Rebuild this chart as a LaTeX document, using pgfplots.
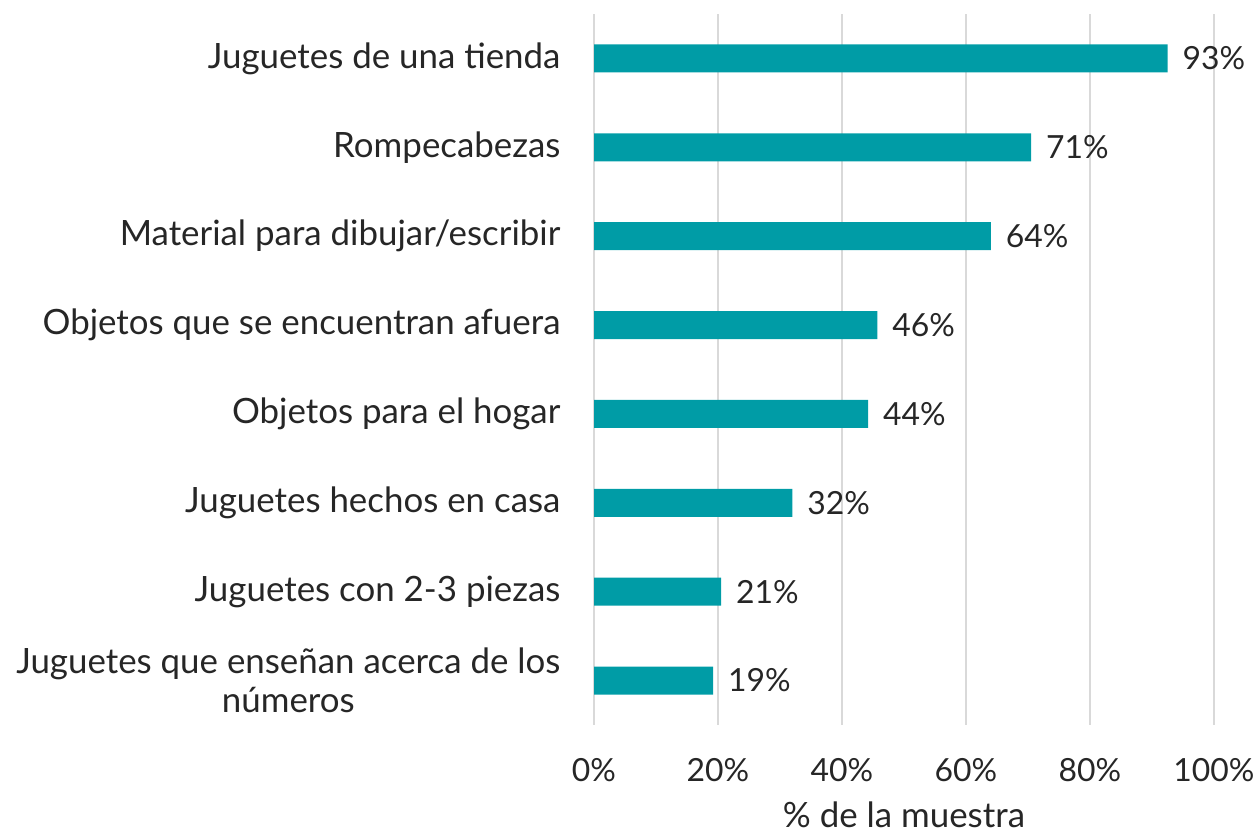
\documentclass[border=0pt]{standalone}
\usepackage{pgfplots}
\pgfplotsset{compat=1.18}
\usepackage{fontspec}
\setmainfont{Lato}
\definecolor{barc}{HTML}{009CA6}
\definecolor{txt}{HTML}{262626}
\definecolor{gridc}{HTML}{D9D9D9}
\begin{document}
\begin{tikzpicture}
\path[use as bounding box] (0,0) rectangle (628.5bp,417.5bp);
\begin{axis}[
  at={(297bp,55bp)}, anchor=south west,
  scale only axis=true,
  width=310bp, height=355.5bp,
  xbar, bar width=14bp,
  xmin=0, xmax=100,
  ymin=-0.5, ymax=7.5,
  y dir=reverse,
  axis line style={draw=none},
  tick style={draw=none},
  xtick={0,20,...,100},
  xticklabel={\pgfmathprintnumber{\tick}\%},
  xmajorgrids=true,
  grid style={gridc, line width=0.75bp},
  ytick={0,...,7},
  yticklabels={Juguetes de una tienda, Rompecabezas, Material para dibujar/escribir, Objetos que se encuentran afuera, Objetos para el hogar, Juguetes hechos en casa, Juguetes con 2-3 piezas, {Juguetes que enseñan acerca de los\\números}},
  yticklabel style={align=center, font=\fontsize{17.5}{19.5}\selectfont, text=txt, xshift=-9bp},
  xticklabel style={font=\fontsize{16}{18}\selectfont, text=txt, yshift=-13bp},
  /pgf/number format/assume math mode=true,
  xlabel={\% de la muestra},
  xlabel style={font=\fontsize{17.5}{20}\selectfont, text=txt, yshift=-3.5bp},
  nodes near coords={\pgfmathprintnumber{\pgfplotspointmeta}\%},
  every node near coord/.append style={anchor=west, font=\fontsize{16}{18}\selectfont, text=txt, xshift=4bp},
  point meta=explicit,
]
\addplot[fill=barc, draw=none] coordinates {
  (92.5,0) [93]
  (70.5,1) [71]
  (64,2) [64]
  (45.7,3) [46]
  (44.2,4) [44]
  (32,5) [32]
  (20.5,6) [21]
  (19.2,7) [19]
};
\end{axis}
\end{tikzpicture}
\end{document}
